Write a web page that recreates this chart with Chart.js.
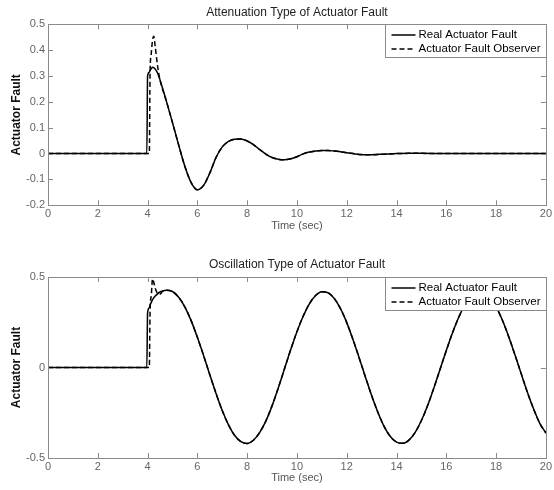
<!DOCTYPE html>
<html>
<head>
<meta charset="utf-8">
<script src="https://cdn.jsdelivr.net/npm/chart.js@4.4.1/dist/chart.umd.min.js"></script>
<style>
  body { margin: 0; background: #fff; }
  canvas { display: block; }
</style>
</head>
<body>
<canvas id="attenuation" width="554" height="245"></canvas>
<canvas id="oscillation" width="554" height="245"></canvas>
<script>
// values (time in sec)
var tTop = [0, 3.97, 4, 4.07, 4.1, 4.15, 4.2, 4.25, 4.3, 4.4, 4.5, 4.75, 5, 5.25, 5.5, 5.75, 6, 6.25, 6.5, 6.75,
  7, 7.25, 7.5, 7.75, 8, 8.25, 8.5, 8.75, 9, 9.25, 9.5, 9.75, 10, 10.25, 10.5, 10.75, 11, 11.25, 11.5, 11.75,
  12, 12.25, 12.5, 12.75, 13, 13.5, 14, 14.5, 15, 16, 17, 18, 19, 20];
var realTop = [0, 0, 0.30, 0.315, 0.322, 0.329, 0.334, 0.333, 0.328, 0.312, 0.285, 0.205, 0.12, 0.033, -0.05, -0.112, -0.14, -0.123, -0.075, -0.015,
  0.026, 0.047, 0.056, 0.057, 0.049, 0.035, 0.016, -0.002, -0.015, -0.022, -0.024, -0.02, -0.012, -0.001, 0.006, 0.010, 0.012, 0.012, 0.010, 0.007,
  0.003, 0.0, -0.003, -0.004, -0.004, -0.002, 0.0, 0.001, 0.001, 0, 0, 0, 0, 0];
var obsTop = [0, 0, 0, 0, 0.31, 0.39, 0.44, 0.454, 0.42, 0.34, 0.285, 0.205, 0.12, 0.033, -0.05, -0.112, -0.14, -0.123, -0.075, -0.015,
  0.026, 0.047, 0.056, 0.057, 0.049, 0.035, 0.016, -0.002, -0.015, -0.022, -0.024, -0.02, -0.012, -0.001, 0.006, 0.010, 0.012, 0.012, 0.010, 0.007,
  0.003, 0.0, -0.003, -0.004, -0.004, -0.002, 0.0, 0.001, 0.001, 0, 0, 0, 0, 0];

var tBot = [0, 3.97, 4, 4.07, 4.1, 4.15, 4.2, 4.25, 4.3, 4.4, 4.5, 4.6, 4.75, 5, 5.25, 5.5, 5.75, 6, 6.25, 6.5,
  6.75, 7, 7.25, 7.5, 7.75, 8, 8.25, 8.5, 8.75, 9, 9.25, 9.5, 9.75, 10, 10.25, 10.5, 10.75, 11, 11.25, 11.5,
  11.75, 12, 12.25, 12.5, 12.75, 13, 13.25, 13.5, 13.75, 14, 14.25, 14.5, 14.75, 15, 15.25, 15.5, 15.75, 16, 16.25, 16.5,
  16.75, 17, 17.25, 17.5, 17.75, 18, 18.25, 18.5, 18.75, 19, 19.25, 19.5, 19.75, 20];
var realBot = [0, 0, 0.30, 0.33, 0.345, 0.36, 0.375, 0.385, 0.393, 0.407, 0.417, 0.423, 0.427, 0.42, 0.388, 0.334, 0.259, 0.167, 0.066, -0.040,
  -0.143, -0.238, -0.317, -0.376, -0.410, -0.420, -0.402, -0.360, -0.296, -0.212, -0.113, -0.007, 0.099, 0.198, 0.283, 0.352, 0.398, 0.419, 0.413, 0.381,
  0.325, 0.248, 0.155, 0.053, -0.052, -0.155, -0.247, -0.325, -0.381, -0.412, -0.419, -0.401, -0.358, -0.293, -0.210, -0.113, -0.010, 0.094, 0.192, 0.278,
  0.347, 0.395, 0.418, 0.415, 0.387, 0.335, 0.262, 0.173, 0.073, -0.031, -0.134, -0.227, -0.307, -0.362];
var obsBot = [0, 0, 0, 0, 0.31, 0.40, 0.49, 0.47, 0.44, 0.41, 0.405, 0.42, 0.427, 0.42, 0.388, 0.334, 0.259, 0.167, 0.066, -0.040,
  -0.143, -0.238, -0.317, -0.376, -0.410, -0.420, -0.402, -0.360, -0.296, -0.212, -0.113, -0.007, 0.099, 0.198, 0.283, 0.352, 0.398, 0.419, 0.413, 0.381,
  0.325, 0.248, 0.155, 0.053, -0.052, -0.155, -0.247, -0.325, -0.381, -0.412, -0.419, -0.401, -0.358, -0.293, -0.210, -0.113, -0.010, 0.094, 0.192, 0.278,
  0.347, 0.395, 0.418, 0.415, 0.387, 0.335, 0.262, 0.173, 0.073, -0.031, -0.134, -0.227, -0.307, -0.362];

var seriesNames = ["Real Actuator Fault", "Actuator Fault Observer"];
var fam = '"Liberation Sans", Arial, sans-serif';

// matlab style box, inward ticks and the boxed legend on top of the lines
var matlabBox = {
  id: 'matlabBox',
  afterDatasetsDraw: function(chart) {
    var ctx = chart.ctx, a = chart.chartArea, x = chart.scales.x, y = chart.scales.y;
    ctx.save();
    ctx.strokeStyle = '#8a8a8a';
    ctx.lineWidth = 1;
    ctx.beginPath();
    x.ticks.forEach(function(t) {
      var p = Math.round(x.getPixelForValue(t.value)) + 0.5;
      ctx.moveTo(p, a.bottom); ctx.lineTo(p, a.bottom - 5);
      ctx.moveTo(p, a.top); ctx.lineTo(p, a.top + 5);
    });
    y.ticks.forEach(function(t) {
      var p = Math.round(y.getPixelForValue(t.value)) + 0.5;
      ctx.moveTo(a.left, p); ctx.lineTo(a.left + 5, p);
      ctx.moveTo(a.right, p); ctx.lineTo(a.right - 5, p);
    });
    ctx.stroke();
    ctx.strokeRect(Math.round(a.left) + 0.5, Math.round(a.top) + 0.5, Math.round(a.right - a.left), Math.round(a.bottom - a.top));

    // legend
    var w = 161, h = 33, lx = Math.round(a.right - w) + 0.5, ly = Math.round(a.top) + 0.5;
    ctx.fillStyle = '#fff';
    ctx.fillRect(lx, ly, w, h);
    ctx.strokeRect(lx, ly, w, h);
    ctx.font = '11.5px ' + fam;
    ctx.textBaseline = 'middle';
    chart.data.datasets.forEach(function(ds, i) {
      var ry = ly + 10.5 + i * 14;
      ctx.strokeStyle = ds.borderColor;
      ctx.lineWidth = 1.5;
      ctx.setLineDash(ds.borderDash || []);
      ctx.beginPath();
      ctx.moveTo(lx + 6, ry); ctx.lineTo(lx + 30, ry);
      ctx.stroke();
      ctx.setLineDash([]);
      ctx.fillStyle = '#000';
      ctx.fillText(ds.label, lx + 33, ry);
    });
    ctx.restore();
  }
};

function plainNum(v) {
  return String(parseFloat(Number(v).toFixed(3)));
}

function makeChart(id, times, real, obs, title, yMin, yMax, yStep, titlePadTop, xHeight, xTitlePad) {
  var ctx = document.getElementById(id);
  return new Chart(ctx, {
    type: 'line',
    data: {
      datasets: [{
        label: seriesNames[0],
        data: times.map(function(t, i) { return {x: t, y: real[i]}; }),
        borderColor: '#000',
        borderWidth: 1.5,
        pointRadius: 0,
        cubicInterpolationMode: 'monotone'
      }, {
        label: seriesNames[1],
        data: times.map(function(t, i) { return {x: t, y: obs[i]}; }),
        borderColor: '#000',
        borderWidth: 1.5,
        borderDash: [5, 3],
        pointRadius: 0,
        cubicInterpolationMode: 'monotone'
      }]
    },
    options: {
      responsive: false,
      animation: false,
      devicePixelRatio: 1,
      layout: { padding: { left: 0, right: 6, top: 0, bottom: 0 } },
      plugins: {
        legend: { display: false },
        tooltip: { enabled: false },
        title: {
          display: true,
          text: title,
          fullSize: false,
          color: '#222',
          font: { family: fam, size: 12, weight: 'normal' },
          padding: { top: titlePadTop, bottom: 5 }
        }
      },
      scales: {
        x: {
          type: 'linear',
          min: 0, max: 20,
          ticks: { stepSize: 2, color: '#666', padding: 2, font: { family: fam, size: 11 }, callback: plainNum },
          grid: { display: false, drawTicks: false },
          border: { display: false },
          title: { display: true, text: 'Time (sec)', color: '#555', font: { family: fam, size: 11 }, padding: { top: 0, bottom: xTitlePad } },
          afterFit: function(s) { s.height = xHeight; }
        },
        y: {
          min: yMin, max: yMax,
          ticks: { stepSize: yStep, color: '#666', padding: 3, font: { family: fam, size: 11 }, callback: plainNum },
          grid: { display: false, drawTicks: false },
          border: { display: false },
          title: { display: true, text: 'Actuator Fault', color: '#111', font: { family: fam, size: 12, weight: 'bold' }, padding: { top: 9, bottom: 0 } },
          afterFit: function(s) { s.width = 48; }
        }
      }
    },
    plugins: [matlabBox]
  });
}

makeChart('attenuation', tTop, realTop, obsTop, 'Attenuation Type of Actuator Fault', -0.2, 0.5, 0.1, 5, 39.7, 12.4);
makeChart('oscillation', tBot, realBot, obsBot, 'Oscillation Type of Actuator Fault', -0.5, 0.5, 0.5, 12.6, 32, 5);
</script>
</body>
</html>
